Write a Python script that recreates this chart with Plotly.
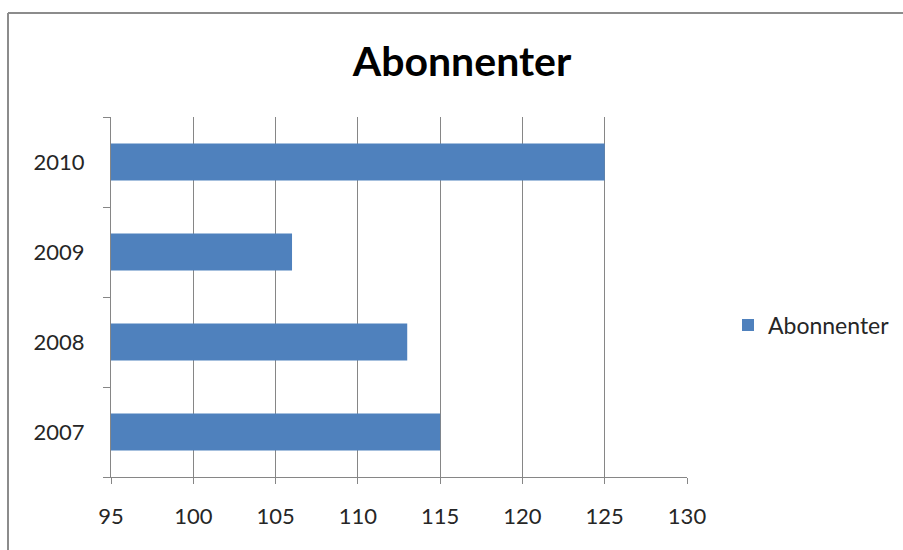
import plotly.graph_objects as go

years = ["2007", "2008", "2009", "2010"]
abonnenter = [115, 113, 106, 125]
x_ticks = [95, 100, 105, 110, 115, 120, 125, 130]

C_BAR = "#4F81BD"; C_GRID = "#868686"; C_TXT = "#262626"
FONT = "Lato"

# plot area in pixels: x 111..687, y 117..477
L, R, T, B = 111, 216, 117, 73
W, H = 903 - L - R, 550 - T - B

def px_x(p): return (p - L) / W
def px_y(p): return (550 - B - p) / H

fig = go.Figure(go.Bar(y=years, x=abonnenter, orientation="h", name="Abonnenter",
                       marker=dict(color=C_BAR, line=dict(width=0))))

fig.update_layout(
    width=903, height=550, margin=dict(l=L, r=R, t=T, b=B, autoexpand=False),
    paper_bgcolor="white", plot_bgcolor="white", bargap=0.59,
    showlegend=True,
    title=dict(text="<b>Abonnenter</b>", x=462 / 903, xref="container", xanchor="center",
               y=1 - 62 / 550, yref="container", yanchor="middle",
               font=dict(family=FONT, size=41, color="black")),
    legend=dict(x=px_x(728), y=px_y(325), xanchor="left", yanchor="middle",
                bgcolor="rgba(0,0,0,0)", font=dict(family=FONT, size=23, color=C_TXT),
                itemwidth=30),
    font=dict(family=FONT, color=C_TXT),
)

fig.update_xaxes(range=[95, 130], tickvals=x_ticks, showgrid=True, gridcolor=C_GRID, gridwidth=1,
                 showline=True, linecolor=C_GRID, linewidth=1, ticks="outside", ticklen=6,
                 tickcolor=C_GRID, tickfont=dict(family=FONT, size=22, color=C_TXT),
                 ticklabelstandoff=14, zeroline=False, fixedrange=True)
fig.update_yaxes(type="category", categoryorder="array", categoryarray=years, showgrid=False,
                 showline=True, linecolor=C_GRID, linewidth=1, ticks="outside", ticklen=7,
                 tickson="boundaries", tickcolor=C_GRID,
                 tickfont=dict(family=FONT, size=22, color=C_TXT), ticklabelstandoff=21,
                 fixedrange=True)

# chart area border: only left and top edges are inside the screenshot
fig.add_shape(type="line", xref="paper", yref="paper",
              x0=px_x(8), x1=px_x(8), y0=px_y(600), y1=px_y(13),
              line=dict(color="#8c8c8c", width=2), layer="below")
fig.add_shape(type="line", xref="paper", yref="paper",
              x0=px_x(8), x1=px_x(1000), y0=px_y(13), y1=px_y(13),
              line=dict(color="#8c8c8c", width=2), layer="below")

fig.write_html("out.html", config={"displayModeBar": False},
               post_script="document.body.style.margin='0';document.body.style.overflow='hidden';")
